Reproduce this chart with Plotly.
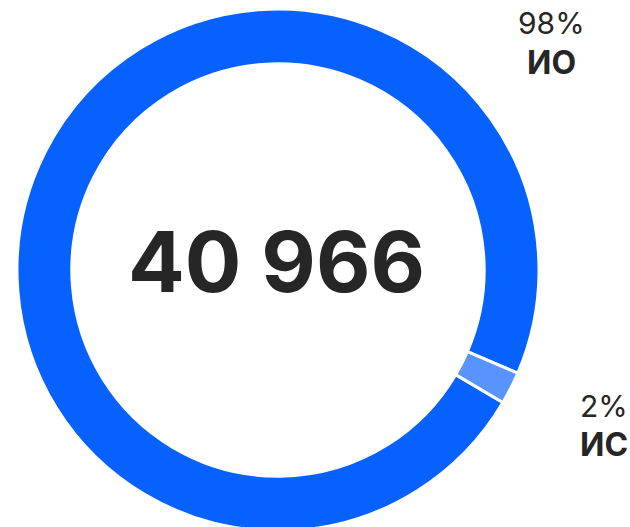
import plotly.graph_objects as go

# Data
categories = ["ИО", "ИС"]
shares = [98, 2]
total = 40966
colors = ["#0761FF", "#5894FF"]

W, H = 630, 540
TEXT = "#262626"

fig = go.Figure(
    go.Pie(
        labels=categories,
        values=shares,
        sort=False,
        direction="clockwise",
        rotation=120.5,
        hole=0.79,
        marker=dict(colors=colors, line=dict(color="white", width=3)),
        textinfo="none",
        hoverinfo="label+percent",
        showlegend=False,
        domain=dict(x=[17 / W, 539 / W], y=[0, 1]),
    )
)

center_txt = f"{total:,}".replace(",", " ")
annotations = [
    dict(text=center_txt, x=276 / W, y=1 - 261 / H, xref="paper", yref="paper",
         showarrow=False, font=dict(family="Inter", size=84, color=TEXT, weight="bold"),
         xanchor="center", yanchor="middle"),
]

label_pos = [(551, 23, 62), (604, 406, 444)]
for cat, val, (cx, y1, y2) in zip(categories, shares, label_pos):
    annotations.append(dict(text=f"{val}%", x=cx / W, y=1 - y1 / H, xref="paper", yref="paper",
                            showarrow=False, xanchor="center", yanchor="middle",
                            font=dict(family="Inter", size=30, color=TEXT)))
    annotations.append(dict(text=f"<b>{cat}</b>", x=cx / W, y=1 - y2 / H, xref="paper", yref="paper",
                            showarrow=False, xanchor="center", yanchor="middle",
                            font=dict(family="Inter", size=32, color=TEXT)))

fig.update_layout(
    width=W, height=H,
    margin=dict(l=0, r=0, t=0, b=0),
    paper_bgcolor="white", plot_bgcolor="white",
    annotations=annotations,
)

fig.write_html(
    "out.html",
    config={"displayModeBar": False},
    post_script="document.body.style.margin='0';document.body.style.overflow='hidden';",
)
